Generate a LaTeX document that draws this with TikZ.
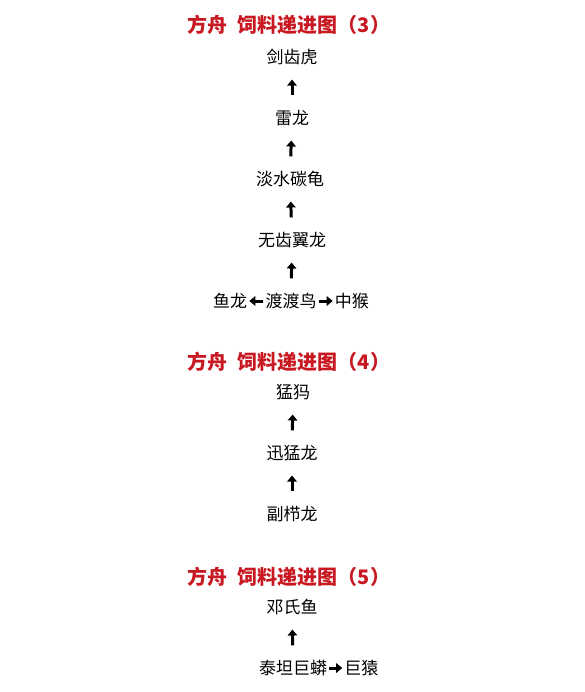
\documentclass[tikz,border=0pt]{standalone}
\usepackage{fontspec}
\newfontfamily\cjk{Noto Sans CJK SC}
\usetikzlibrary{arrows.meta,positioning}
\definecolor{titlered}{RGB}{200,25,35}
\tikzset{
  titletext/.style={text=titlered, font=\cjk\bfseries\fontsize{20}{20}\selectfont, inner sep=0pt},
  animal/.style={text=black, font=\cjk\fontsize{17}{17}\selectfont, inner sep=0pt},
  feed/.style={line width=3pt, -{Triangle[length=6pt,width=9.5pt]}},
  feedup/.style={feed, shorten <=14.5pt, shorten >=14.5pt},
  feedside/.style={feed, shorten <=2pt, shorten >=2pt},
}
\begin{document}
\begin{tikzpicture}[x=1pt,y=-1pt]
\useasboundingbox (0,0) rectangle (584,692);
% ---- (3)
\node[titletext] (t3) at (289,25) {方舟\hspace{0.5em}饲料递进图（3）};
\node[animal] (jch) at (292,57) {剑齿虎};
\node[animal] (lel) at (292,118) {雷龙};
\node[animal] (dsg) at (290,179) {淡水碳龟};
\node[animal] (wcy) at (292,240) {无齿翼龙};
\node[animal] (ddn) at (291,301) {渡渡鸟};
\node[animal, left=18pt of ddn] (yul) {鱼龙};
\node[animal, right=18pt of ddn] (zhh) {中猴};
\draw[feedup] (lel) -- (jch);
\draw[feedup] (dsg) -- (lel);
\draw[feedup] (wcy) -- (dsg);
\draw[feedup] (ddn) -- (wcy);
\draw[feedside] (ddn) -- (yul);
\draw[feedside] (ddn) -- (zhh);
% ---- (4)
\node[titletext] (t4) at (289,362) {方舟\hspace{0.5em}饲料递进图（4）};
\node[animal] (mam) at (293,392) {猛犸};
\node[animal] (xml) at (292,453) {迅猛龙};
\node[animal] (fzl) at (292,514) {副栉龙};
\draw[feedup] (xml) -- (mam);
\draw[feedup] (fzl) -- (xml);
% ---- (5)
\node[titletext] (t5) at (289,577) {方舟\hspace{0.5em}饲料递进图（5）};
\node[animal] (dsy) at (292,607) {邓氏鱼};
\node[animal] (ttm) at (293,668) {泰坦巨蟒};
\node[animal, right=17pt of ttm] (jyu) {巨猿};
\draw[feedup] (ttm) -- (dsy);
\draw[feedside] (ttm) -- (jyu);
\end{tikzpicture}
\end{document}
